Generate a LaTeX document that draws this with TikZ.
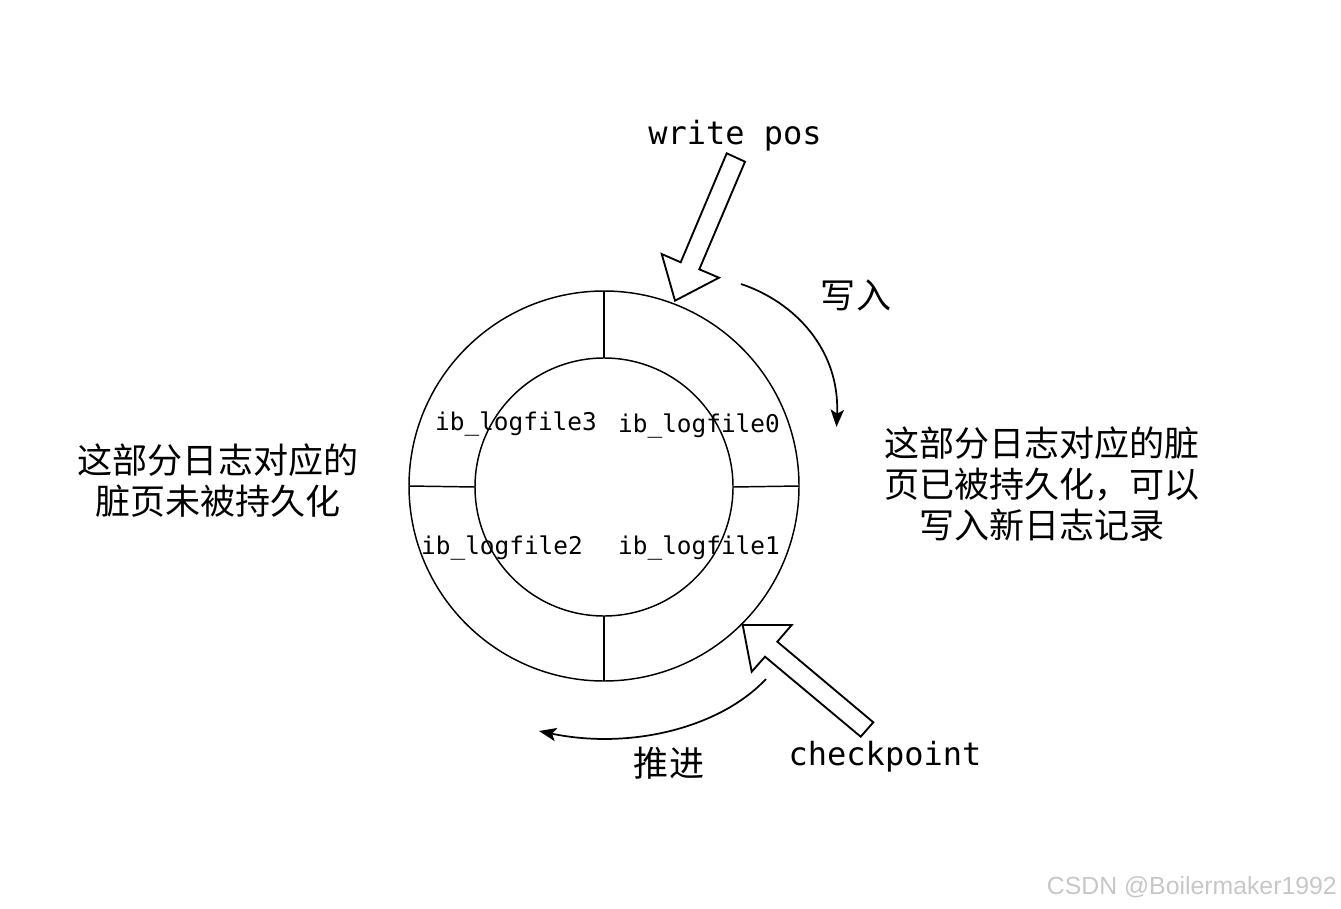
\documentclass[tikz,border=0pt]{standalone}
\usepackage{fontspec}
\setmonofont{DejaVu Sans Mono}
\newfontfamily\cjk{Noto Sans CJK SC}
\newfontfamily\wmfont{Liberation Sans}
\usetikzlibrary{arrows.meta}
\begin{document}
\begin{tikzpicture}[x=0.75pt,y=-0.75pt,
  ring/.style={draw,circle,line width=1.1pt,inner sep=0pt,outer sep=0pt},
  divider/.style={line width=1.1pt},
  hollow/.style={draw,line width=1.4pt,fill=white,line join=miter},
  curvearrow/.style={line width=1.3pt,-{Stealth[length=13pt,width=10pt,inset=3pt]}},
  mono/.style={font=\ttfamily\fontsize{24pt}{28pt}\selectfont,inner sep=0pt},
  filelabel/.style={font=\ttfamily\fontsize{18.3pt}{22pt}\selectfont,inner sep=0pt},
  cjktext/.style={font=\cjk\fontsize{26.3pt}{30.8pt}\selectfont,align=center,inner sep=0pt},
  watermark/.style={font=\wmfont\fontsize{18.6pt}{20pt}\selectfont,text=black!22,inner sep=0pt}
]
\useasboundingbox (0,0) rectangle (1341,909);

% rings
\node[ring,minimum size=292.5pt] (outer) at (604,486) {};
\node[ring,minimum size=193.5pt] (inner) at (604,487) {};
\draw[divider] (outer.north) -- (inner.north);
\draw[divider] (outer.south) -- (inner.south);
\draw[divider] (outer.west) -- (inner.west);
\draw[divider] (outer.east) -- (inner.east);

% file labels
\node[filelabel] (f3) at (516,424) {ib\_logfile3};
\node[filelabel] (f0) at (699,426) {ib\_logfile0};
\node[filelabel] (f2) at (502,548) {ib\_logfile2};
\node[filelabel] (f1) at (699,548) {ib\_logfile1};

% write pos arrow
\node[mono] (wp) at (735,136) {write pos};
\coordinate (w1) at (726.7,153.3);
\coordinate (w2) at (745,161.7);
\coordinate (w3) at (699.3,269.3);
\coordinate (w4) at (719,277.7);
\coordinate (w5) at (675,300.7);
\coordinate (w6) at (661.7,254);
\coordinate (w7) at (680.7,262.3);
\draw[hollow] (w1) -- (w2) -- (w3) -- (w4) -- (w5) -- (w6) -- (w7) -- cycle;

% checkpoint arrow
\node[mono] (cp) at (885,757) {checkpoint};
\coordinate (c1) at (742.7,625);
\coordinate (c2) at (791.7,625);
\coordinate (c3) at (777.3,641.7);
\coordinate (c4) at (873.3,722.3);
\coordinate (c5) at (860.7,736.7);
\coordinate (c6) at (765,656.7);
\coordinate (c7) at (751.7,671.7);
\draw[hollow] (c1) -- (c2) -- (c3) -- (c4) -- (c5) -- (c6) -- (c7) -- cycle;

% curved arrows
\coordinate (ws) at (741,284);
\coordinate (we) at (836.5,427);
\draw[curvearrow] (ws) .. controls (795,302) and (840,350) .. (we);
\node[cjktext] (xr) at (856,295) {写入};

\coordinate (ps) at (766,679);
\coordinate (pe) at (539,731);
\draw[curvearrow] (ps) .. controls (720,728) and (630,750) .. (pe);
\node[cjktext] (tj) at (669,763) {推进};

% side texts
\node[cjktext] (lt) at (218,481) {这部分日志对应的\\脏页未被持久化};
\node[cjktext] (rt) at (1042,484) {这部分日志对应的脏\\页已被持久化，可以\\写入新日志记录};

% watermark
\node[watermark,anchor=east] (wm) at (1337,887) {CSDN @Boilermaker1992};
\end{tikzpicture}
\end{document}
